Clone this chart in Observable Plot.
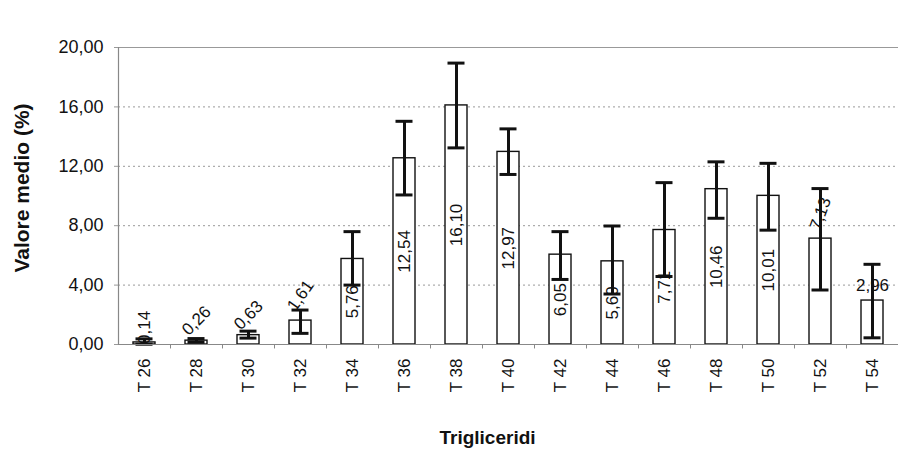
<!DOCTYPE html>
<html>
<head>
<meta charset="utf-8">
<script src="https://cdn.jsdelivr.net/npm/d3@7"></script>
<script src="https://cdn.jsdelivr.net/npm/@observablehq/plot@0.6"></script>
<style>
  html, body { margin: 0; padding: 0; background: #fff; }
  #chart svg { display: block; font-family: "Liberation Sans", Arial, sans-serif; }
</style>
</head>
<body>
<div id="chart"></div>
<script>
// Triglyceride classes (carbon number)
const categories = ["T 26", "T 28", "T 30", "T 32", "T 34", "T 36", "T 38", "T 40", "T 42", "T 44", "T 46", "T 48", "T 50", "T 52", "T 54"];
// Mean percentage of each class
const means = [0.14, 0.26, 0.63, 1.61, 5.76, 12.54, 16.10, 12.97, 6.05, 5.60, 7.71, 10.46, 10.01, 7.13, 2.96];
// Lower and upper ends of the error bars
const errLow = [0.02, 0.15, 0.43, 0.75, 4.00, 10.07, 13.24, 11.45, 4.38, 3.40, 4.58, 8.50, 7.70, 3.67, 0.45];
const errHigh = [0.38, 0.40, 0.90, 2.32, 7.60, 15.03, 18.95, 14.52, 7.60, 7.98, 10.90, 12.30, 12.20, 10.50, 5.40];
// Y axis ticks
const yTicks = [0, 4, 8, 12, 16, 20];

const it = d3.formatLocale({decimal: ",", thousands: ".", grouping: [3], currency: ["", " €"]});
const fmt = it.format(".2f");

const data = categories.map((cat, i) => ({cat, mean: means[i], lo: errLow[i], hi: errHigh[i]}));

// Labels that do not fit inside their bar sit just above the bar top
const outside = {
  "T 26": {dy: -15, rotate: -90},
  "T 28": {dy: -20, rotate: -45},
  "T 30": {dy: -20, rotate: -45},
  "T 32": {dy: -25, rotate: -55},
  "T 52": {dy: -25, rotate: -70},
  "T 54": {dy: -15, rotate: 0}
};
const inside = data.filter(d => !(d.cat in outside));
const outsideMarks = data.filter(d => d.cat in outside).map(d =>
  Plot.text([d], {x: "cat", y: "mean", text: d => fmt(d.mean), dy: outside[d.cat].dy,
    rotate: outside[d.cat].rotate, fontSize: 17, fill: "#111"}));

const chart = Plot.plot({
  width: 898,
  height: 449,
  marginLeft: 118,
  marginRight: 0,
  marginTop: 47,
  marginBottom: 105,
  style: {fontFamily: "'Liberation Sans', Arial, sans-serif", background: "#fff", overflow: "visible"},
  x: {domain: categories, paddingInner: 0.58, paddingOuter: 0.29},
  y: {domain: [0, 20]},
  marks: [
    Plot.gridY(yTicks.filter(t => t > 0 && t < 20), {stroke: "#999", strokeOpacity: 1, strokeDasharray: "2,3", strokeWidth: 1}),
    Plot.ruleY([20], {stroke: "#999", strokeWidth: 1.2}),
    Plot.frame({anchor: "left", stroke: "#888", strokeWidth: 1.2}),
    Plot.axisY({ticks: yTicks, tickFormat: fmt, fontSize: 18, tickSize: 4, tickPadding: 11, label: null, stroke: "#999", color: "#111"}),
    Plot.axisX({tickSize: 0, tickPadding: 14, tickRotate: -90, fontSize: 17, label: null, color: "#111"}),
    // small marks between the categories, below the baseline
    Plot.ruleX(categories, {x: d => d, dx: 26, y1: 0, y2: -0.3, stroke: "#888"}),
    Plot.barY(data, {x: "cat", y: "mean", fill: "white", stroke: "#111", strokeWidth: 1.4}),
    Plot.ruleX(data, {x: "cat", y1: "lo", y2: "hi", stroke: "#111", strokeWidth: 3}),
    Plot.tickY(data, {x: "cat", y: "lo", stroke: "#111", strokeWidth: 3, inset: 2.5}),
    Plot.tickY(data, {x: "cat", y: "hi", stroke: "#111", strokeWidth: 3, inset: 2.5}),
    Plot.ruleY([0], {stroke: "#888", strokeWidth: 1.2}),
    Plot.text(inside, {x: "cat", y: d => d.mean / 2, text: d => fmt(d.mean), rotate: -90, fontSize: 17, fill: "#111"}),
    ...outsideMarks,
    Plot.text(["Valore medio (%)"], {frameAnchor: "left", textAnchor: "middle", dx: -96, dy: -8, rotate: -90, fontSize: 21, fontWeight: "bold", fill: "#111"}),
    Plot.text(["Trigliceridi"], {frameAnchor: "bottom", dx: -21, dy: 99, fontSize: 19, fontWeight: "bold", fill: "#111"})
  ]
});

document.getElementById("chart").appendChild(chart);
</script>
</body>
</html>
